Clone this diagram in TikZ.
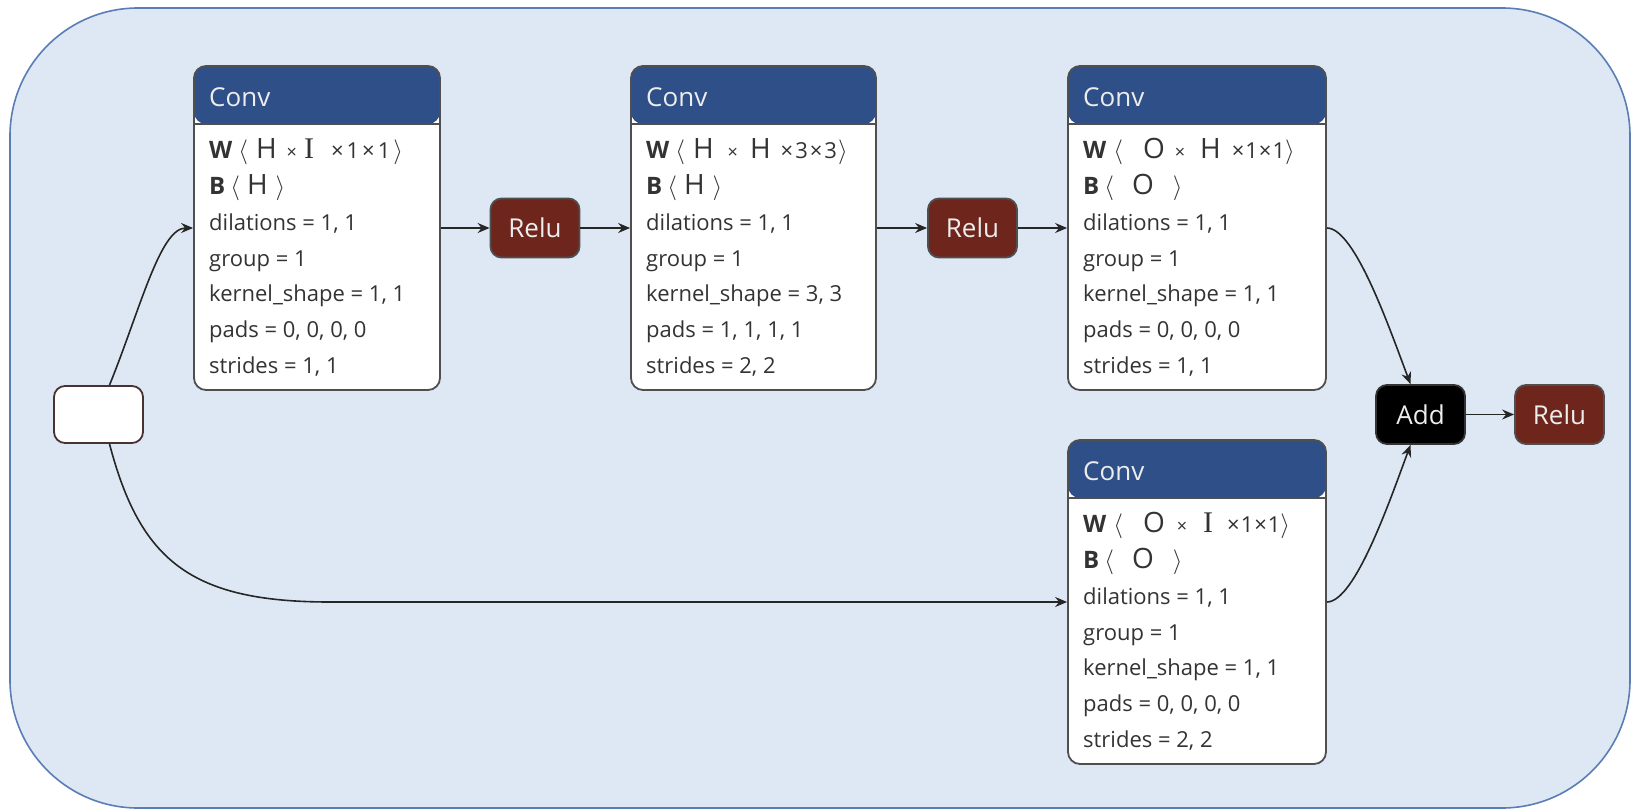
\documentclass[tikz,border=0pt]{standalone}
\usepackage{fontspec}
\setmainfont{Open Sans}
\newfontfamily\serifI{Liberation Serif}
\usetikzlibrary{arrows.meta}
\definecolor{bgfill}{HTML}{DEE8F4}
\definecolor{bgline}{HTML}{5A7DB5}
\definecolor{hdr}{HTML}{2E4F87}
\definecolor{reluc}{HTML}{6E251C}
\definecolor{bordc}{HTML}{4F4F4F}
\definecolor{inbord}{HTML}{4A3232}
\definecolor{txt}{HTML}{333333}
\newcommand{\lang}{{\fontsize{27}{28}\selectfont$\langle$}}
\newcommand{\rang}{{\fontsize{27}{28}\selectfont$\rangle$}}
\newcommand{\bigH}{{\fontsize{28}{30}\selectfont H}}
\newcommand{\bigO}{{\fontsize{28}{30}\selectfont O}}
\newcommand{\serI}{{\serifI\fontsize{30}{32}\selectfont I}}
\newcommand{\tms}{{\fontsize{18}{22}\selectfont ×}}
\newcommand{\hs}[1]{\hspace{#1pt}}
\newcommand{\dims}[3]{×\hs{#3}#1\hs{#3}×\hs{#3}#2}
\newcommand{\bw}[1]{{\fontsize{24}{26}\selectfont\bfseries #1}}
\tikzset{
  convbox/.style={draw=bordc, line width=1.8pt, fill=white, rounded corners=12pt,
    inner sep=0pt, minimum height=324pt,
    path picture={
      \fill[hdr] ([yshift=-58pt]path picture bounding box.north west) rectangle (path picture bounding box.north east);
      \draw[bordc, line width=1.5pt] ([yshift=-58pt]path picture bounding box.north west) -- ([yshift=-58pt]path picture bounding box.north east);
    }},
  opbox/.style={draw=bordc, line width=1.8pt, fill=reluc, rounded corners=11pt,
    minimum width=89pt, minimum height=59pt, inner sep=0pt, text=white!93!black,
    font=\fontsize{26}{30}\selectfont},
  addbox/.style={opbox, fill=black, draw=black!80},
  inbox/.style={draw=inbord, line width=1.8pt, fill=white, rounded corners=11pt,
    minimum width=89pt, minimum height=57pt, inner sep=0pt},
  lbl/.style={anchor=base west, inner sep=0pt, text=txt, font=\fontsize{22}{26}\selectfont},
  ttl/.style={anchor=base west, inner sep=0pt, text=white!93!black, font=\fontsize{26}{30}\selectfont},
  arr/.style={-{Stealth[length=12pt,width=10pt,inset=4pt]}, line width=1.6pt, draw=black!85},
  bgbox/.style={draw=bgline, line width=1.6pt, fill=bgfill, rounded corners=128pt}
}
\begin{document}
\begin{tikzpicture}[x=1pt,y=-1pt]
\useasboundingbox (0,0) rectangle (1636,811);
\draw[bgbox] (10,8) rectangle (1630,808);

% boxes
\node[convbox, minimum width=246pt] (c1) at (317,228) {};
\node[convbox, minimum width=245pt] (c2) at (753.5,228) {};
\node[convbox, minimum width=258pt] (c3) at (1197,228) {};
\node[convbox, minimum width=258pt] (c4) at (1197,602) {};
\node[opbox] (r1) at (535,228) {Relu};
\node[opbox] (r2) at (972.5,228) {Relu};
\node[inbox] (in) at (98.5,414.5) {};
\node[addbox] (add) at (1420.5,414.5) {Add};
\node[opbox] (r3) at (1559.5,414.5) {Relu};

% conv 1 text
\node[ttl] (c1t) at (209,106) {Conv};
\node[lbl] (c1w) at (209,158) {\bw{W}\hs{6}\lang\hs{8}\bigH\hs{10}\tms\hs{7}\serI\hs{17}\dims{1}{1}{3}\hs{3}\rang};
\node[lbl] (c1b) at (209,194) {\bw{B}\hs{5}\lang\hs{7}\bigH\hs{8}\rang};
\node[lbl] (c1d) at (209,230) {dilations = 1, 1};
\node[lbl] (c1g) at (209,266) {group = 1};
\node[lbl] (c1k) at (209,301) {kernel\_shape = 1, 1};
\node[lbl] (c1p) at (209,337) {pads = 0, 0, 0, 0};
\node[lbl] (c1s) at (209,373) {strides = 1, 1};

% conv 2 text
\node[ttl] (c2t) at (646,106) {Conv};
\node[lbl] (c2w) at (646,158) {\bw{W}\hs{6}\lang\hs{8}\bigH\hs{14}\tms\hs{12}\bigH\hs{10}\dims{3}{3}{2}\hs{1}\rang};
\node[lbl] (c2b) at (646,194) {\bw{B}\hs{5}\lang\hs{7}\bigH\hs{8}\rang};
\node[lbl] (c2d) at (646,230) {dilations = 1, 1};
\node[lbl] (c2g) at (646,266) {group = 1};
\node[lbl] (c2k) at (646,301) {kernel\_shape = 3, 3};
\node[lbl] (c2p) at (646,337) {pads = 1, 1, 1, 1};
\node[lbl] (c2s) at (646,373) {strides = 2, 2};

% conv 3 text
\node[ttl] (c3t) at (1083,106) {Conv};
\node[lbl] (c3w) at (1083,158) {\bw{W}\hs{7}\lang\hs{20}\bigO\hs{10}\tms\hs{15}\bigH\hs{11}\dims{1}{1}{1}\rang};
\node[lbl] (c3b) at (1083,194) {\bw{B}\hs{5}\lang\hs{18}\bigO\hs{19}\rang};
\node[lbl] (c3d) at (1083,230) {dilations = 1, 1};
\node[lbl] (c3g) at (1083,266) {group = 1};
\node[lbl] (c3k) at (1083,301) {kernel\_shape = 1, 1};
\node[lbl] (c3p) at (1083,337) {pads = 0, 0, 0, 0};
\node[lbl] (c3s) at (1083,373) {strides = 1, 1};

% conv 4 text
\node[ttl] (c4t) at (1083,480) {Conv};
\node[lbl] (c4w) at (1083,532) {\bw{W}\hs{7}\lang\hs{20}\bigO\hs{12}\tms\hs{16}\serI\hs{14}\dims{1}{1}{1}\rang};
\node[lbl] (c4b) at (1083,568) {\bw{B}\hs{5}\lang\hs{18}\bigO\hs{19}\rang};
\node[lbl] (c4d) at (1083,604) {dilations = 1, 1};
\node[lbl] (c4g) at (1083,640) {group = 1};
\node[lbl] (c4k) at (1083,675) {kernel\_shape = 1, 1};
\node[lbl] (c4p) at (1083,711) {pads = 0, 0, 0, 0};
\node[lbl] (c4s) at (1083,747) {strides = 2, 2};

% connectors
\draw[arr] ([xshift=11pt]in.north) .. controls (140,310) and (160,228) .. (c1.west);
\draw[arr] ([xshift=11pt]in.south) .. controls (140,560) and (190,602) .. (330,602) -- (c4.west);
\draw[arr] (c1.east) -- (r1.west);
\draw[arr] (r1.east) -- (c2.west);
\draw[arr] (c2.east) -- (r2.west);
\draw[arr] (r2.east) -- (c3.west);
\draw[arr] (c3.east) .. controls (1355,228) and (1390,330) .. ([xshift=-10pt]add.north);
\draw[arr] (c4.east) .. controls (1355,602) and (1390,500) .. ([xshift=-10pt]add.south);
\draw[arr] (add.east) -- (r3.west);
\end{tikzpicture}
\end{document}
